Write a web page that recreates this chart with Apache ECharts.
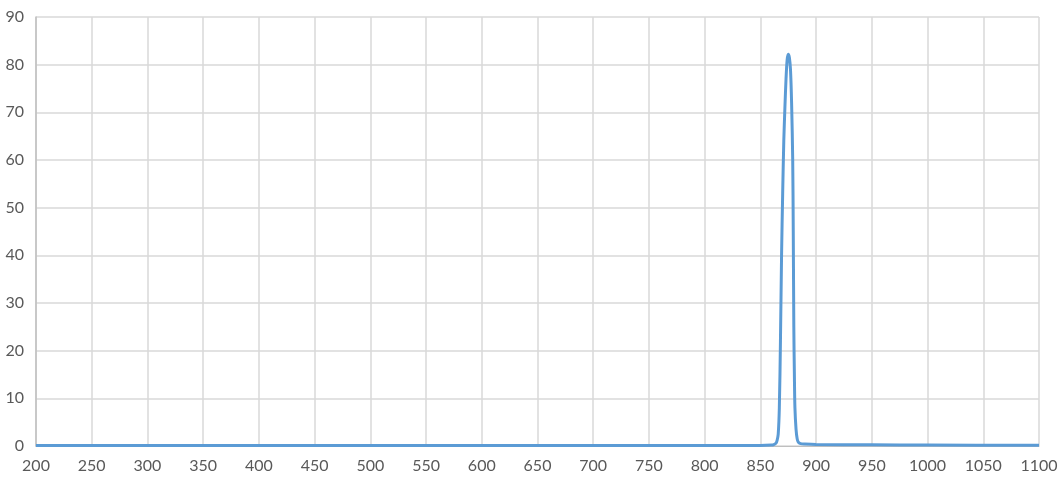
<!DOCTYPE html>
<html>
<head>
<meta charset="utf-8">
<script src="https://cdn.jsdelivr.net/npm/echarts@6/dist/echarts.min.js"></script>
<style>
  html, body { margin: 0; padding: 0; background: #fff; }
  #chart { width: 1063px; height: 485px; }
</style>
</head>
<body>
<div id="chart"></div>
<script>
// wavelength (nm) and transmission (%)
const wavelengths = [200, 300, 400, 500, 600, 700, 800, 850, 860, 862, 864, 865, 866, 867, 868, 869, 870, 871, 872, 873, 874, 875, 876, 877, 878, 879, 879.5, 880, 880.5, 881, 882, 883, 884, 886, 890, 900, 950, 1000, 1100];
const transmission = [0.1, 0.1, 0.1, 0.1, 0.1, 0.1, 0.1, 0.1, 0.2, 0.3, 0.6, 1.2, 2.5, 8, 22, 40, 53, 64, 71, 77, 81, 82.2, 81.5, 79, 72, 60, 45, 25, 15, 8, 3.5, 1.5, 0.8, 0.5, 0.4, 0.3, 0.25, 0.2, 0.15];
const xTicks = { min: 200, max: 1100, step: 50 };
const yTicks = { min: 0, max: 90, step: 10 };

const points = wavelengths.map((w, i) => [w, transmission[i]]);

const chart = echarts.init(document.getElementById('chart'));
chart.setOption({
  animation: false,
  grid: { left: 36, right: 24, top: 17, bottom: 39 },
  textStyle: { fontFamily: 'Lato' },
  xAxis: {
    type: 'value',
    min: xTicks.min,
    max: xTicks.max,
    interval: xTicks.step,
    axisLine: { show: true, lineStyle: { color: '#bfbfbf', width: 1 } },
    axisTick: { show: false },
    axisLabel: { color: '#595959', fontSize: 16, margin: 12, formatter: v => String(v) },
    splitLine: { show: true, lineStyle: { color: '#d9d9d9', width: 1.5 } }
  },
  yAxis: {
    type: 'value',
    min: yTicks.min,
    max: yTicks.max,
    interval: yTicks.step,
    axisLine: { show: true, lineStyle: { color: '#bfbfbf', width: 1.5 } },
    axisTick: { show: false },
    axisLabel: { color: '#595959', fontSize: 16, margin: 12, formatter: v => String(v) },
    splitLine: { show: true, lineStyle: { color: '#d9d9d9', width: 1.5 } }
  },
  series: [{
    type: 'line',
    data: points,
    showSymbol: false,
    smooth: 0.3,
    lineStyle: { color: '#5b9bd5', width: 3 }
  }]
});
</script>
</body>
</html>
